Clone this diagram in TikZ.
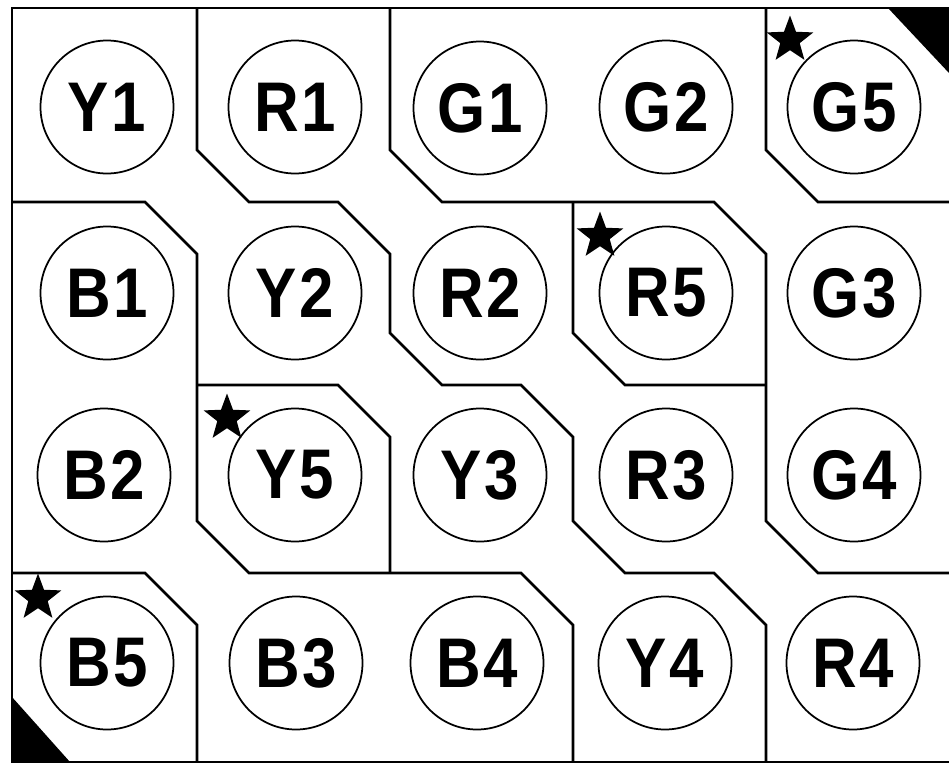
\documentclass[tikz,border=0pt]{standalone}
\usepackage{fontspec}
\setmainfont{Liberation Sans}
\newfontfamily\discface[FakeStretch=0.88, LetterSpace=4]{Liberation Sans}
\usepackage{tikz}
\usetikzlibrary{shapes.geometric}
\newcommand{\discfont}{\discface\fontsize{40}{40}\selectfont\bfseries}

\begin{document}
\begin{tikzpicture}[
  x=0.2mm, y=-0.2mm,
  disc/.style={circle, draw, line width=0.35mm, minimum size=26.6mm,
               inner sep=0pt, font=\discfont},
  wall/.style={line width=0.55mm, line join=miter},
  starmark/.style={star, star points=5, star point ratio=2.4, fill=black,
                   minimum size=9.8mm, inner sep=0pt},
  cornerfill/.style={fill=black}
]
\useasboundingbox (0,0) rectangle (949,764);

% frame (open on the right)
\draw[wall] (949,8) -- (12,8) -- (12,762) -- (949,762);

% black corners
\fill[cornerfill] (888,8) -- (949,8) -- (949,73) -- cycle;
\fill[cornerfill] (12,697) -- (12,762) -- (70,762) -- cycle;

% staircase between yellow and red
\draw[wall] (197,8) -- (197,150) -- (249,202) -- (338,202) -- (390,254)
  -- (390,333) -- (442,385) -- (521,385) -- (573,437) -- (573,521)
  -- (625,573) -- (714,573) -- (766,625) -- (766,762);
% staircase between yellow and blue
\draw[wall] (12,202) -- (145,202) -- (197,254) -- (197,521) -- (249,573)
  -- (521,573) -- (573,625) -- (573,762);
% staircase between red and green
\draw[wall] (390,8) -- (390,150) -- (442,202) -- (714,202) -- (766,254)
  -- (766,521) -- (818,573) -- (949,573);

% the four starred cells
\draw[wall] (766,8) -- (766,150) -- (818,202) -- (949,202);
\draw[wall] (573,202) -- (573,333) -- (625,385) -- (766,385);
\draw[wall] (197,385) -- (338,385) -- (390,437) -- (390,573);
\draw[wall] (12,573) -- (145,573) -- (197,625) -- (197,762);

% row 1
\node[disc] (y1) at (107,107) {Y1};
\node[disc] (r1) at (295,107) {R1};
\node[disc] (g1) at (480,108) {G1};
\node[disc] (g2) at (666,107) {G2};
\node[disc] (g5) at (854,107) {G5};
% row 2
\node[disc] (b1) at (107,293) {B1};
\node[disc] (y2) at (295,293) {Y2};
\node[disc] (r2) at (480,293) {R2};
\node[disc] (r5) at (666,293) {R5};
\node[disc] (g3) at (854,293) {G3};
% row 3
\node[disc] (b2) at (104,475) {B2};
\node[disc] (y5) at (295,475) {Y5};
\node[disc] (y3) at (480,475) {Y3};
\node[disc] (r3) at (666,475) {R3};
\node[disc] (g4) at (854,475) {G4};
% row 4
\node[disc] (b5) at (107,663) {B5};
\node[disc] (b3) at (296,663) {B3};
\node[disc] (b4) at (477,663) {B4};
\node[disc] (y4) at (665,663) {Y4};
\node[disc] (r4) at (853,663) {R4};

% stars on the odd cells
\node[starmark] (g5star) at (790,40) {};
\node[starmark] (r5star) at (600,236) {};
\node[starmark] (y5star) at (227,418) {};
\node[starmark] (b5star) at (38,598) {};

\end{tikzpicture}
\end{document}
